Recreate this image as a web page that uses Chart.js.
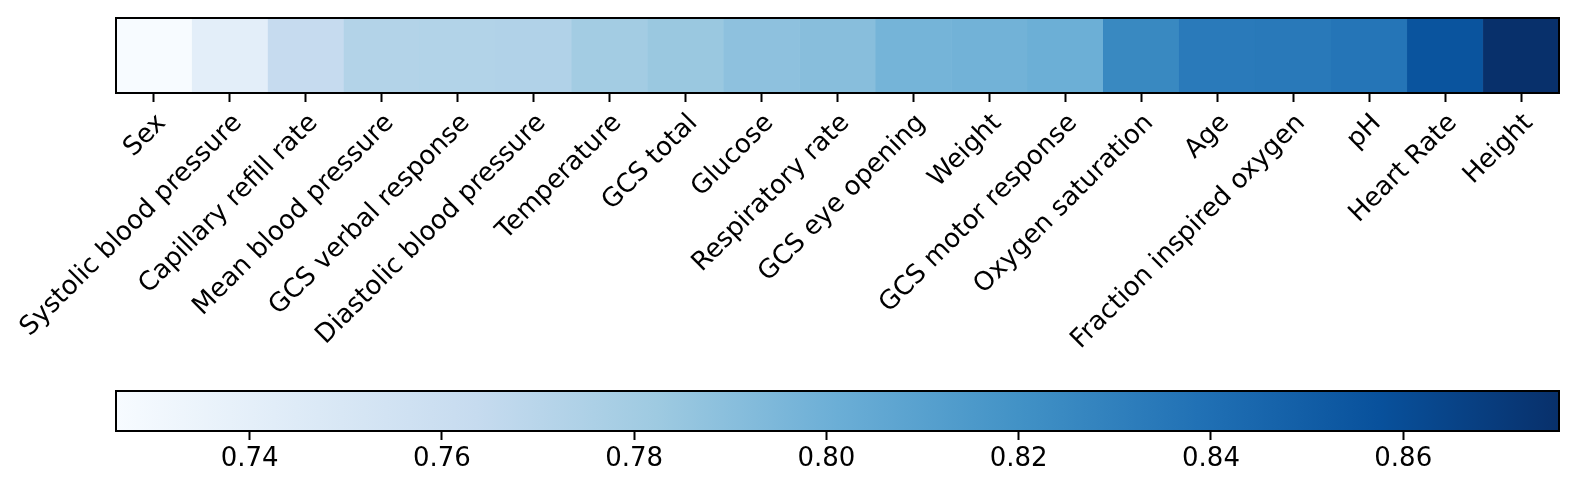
<!DOCTYPE html>
<html><head><meta charset="utf-8">
<script src="https://cdn.jsdelivr.net/npm/chart.js@4"></script>
<style>
html,body{margin:0;padding:0;background:#fff;width:1578px;height:492px;overflow:hidden}
#c1{position:absolute;left:0;top:0}
#c2{position:absolute;left:0;top:370px}
</style></head><body>
<canvas id="c1" width="1578" height="370" style="width:1578px;height:370px"></canvas>
<canvas id="c2" width="1578" height="122" style="width:1578px;height:122px"></canvas>
<script>
// ---- data ----
const categories = ["Sex","Systolic blood pressure","Capillary refill rate","Mean blood pressure",
  "GCS verbal response","Diastolic blood pressure","Temperature","GCS total","Glucose",
  "Respiratory rate","GCS eye opening","Weight","GCS motor response","Oxygen saturation",
  "Age","Fraction inspired oxygen","pH","Heart Rate","Height"];
const importance = [0.7261,0.7411,0.7636,0.7725,0.7728,0.7734,0.7800,0.7837,0.7882,
  0.7906,0.7974,0.7986,0.8007,0.8250,0.8336,0.8342,0.8364,0.8556,0.8762];
const colorbarTicks = [0.74,0.76,0.78,0.80,0.82,0.84,0.86];
// matplotlib "Blues" colormap stops
const BLUES = [[247,251,255],[222,235,247],[198,219,239],[158,202,225],[107,174,214],
  [66,146,198],[33,113,181],[8,81,156],[8,48,107]];

const vmin = Math.min(...importance), vmax = Math.max(...importance);
function blues(t){
  t = Math.max(0, Math.min(1, t));
  const n = BLUES.length - 1;
  const i = Math.min(n - 1, Math.floor(t * n));
  const f = t * n - i, a = BLUES[i], b = BLUES[i + 1];
  return 'rgb(' + a.map((v, k) => Math.round(v + (b[k] - v) * f)).join(',') + ')';
}
const cellColors = importance.map(v => blues((v - vmin) / (vmax - vmin)));

const FONT = {family: "'DejaVu Sans'", size: 26};
const framePlugin = {
  id: 'frame',
  afterDraw(chart){
    const {ctx, chartArea: a} = chart;
    ctx.save();
    ctx.strokeStyle = '#000'; ctx.lineWidth = 2;
    ctx.strokeRect(a.left, a.top, a.right - a.left, a.bottom - a.top);
    ctx.restore();
  }
};

new Chart(document.getElementById('c1'), {
  type: 'bar',
  data: {
    labels: categories,
    datasets: [{
      data: importance.map(() => 1),
      backgroundColor: cellColors,
      borderColor: cellColors,
      borderWidth: 0.5,
      barPercentage: 1,
      categoryPercentage: 1
    }]
  },
  options: {
    responsive: false, animation: false, devicePixelRatio: 1,
    layout: {padding: {top: 18, left: 116, right: 19, bottom: 0}},
    plugins: {legend: {display: false}, tooltip: {enabled: false}},
    scales: {
      x: {
        grid: {display: true, drawOnChartArea: false, drawTicks: true, offset: false,
               tickLength: 9, tickWidth: 2, tickColor: '#000'},
        border: {display: false},
        ticks: {autoSkip: false, minRotation: 45, maxRotation: 45, color: '#000',
                font: FONT, padding: 6, labelOffset: 8},
        afterFit(scale){ scale.height = 277; }
      },
      y: {display: false, min: 0, max: 1}
    }
  },
  plugins: [framePlugin]
});

new Chart(document.getElementById('c2'), {
  type: 'bar',
  data: {
    labels: [''],
    datasets: [{
      data: [[vmin, vmax]],
      backgroundColor(ctx){
        const chart = ctx.chart;
        if (!chart.chartArea) return null;
        const xs = chart.scales.x;
        const g = chart.ctx.createLinearGradient(xs.getPixelForValue(vmin), 0, xs.getPixelForValue(vmax), 0);
        BLUES.forEach((c, i) => g.addColorStop(i / (BLUES.length - 1), 'rgb(' + c.join(',') + ')'));
        return g;
      },
      borderWidth: 0,
      barPercentage: 1,
      categoryPercentage: 1
    }]
  },
  options: {
    indexAxis: 'y',
    responsive: false, animation: false, devicePixelRatio: 1,
    layout: {padding: {top: 21, left: 116, right: 19, bottom: 0}},
    plugins: {legend: {display: false}, tooltip: {enabled: false}},
    scales: {
      x: {
        type: 'linear', min: vmin, max: vmax,
        afterBuildTicks(scale){ scale.ticks = colorbarTicks.map(v => ({value: v})); },
        grid: {display: true, drawOnChartArea: false, drawTicks: true,
               tickLength: 9, tickWidth: 2, tickColor: '#000'},
        border: {display: false},
        ticks: {color: '#000', font: FONT, padding: 4, callback: v => Number(v).toFixed(2)},
        afterFit(scale){ scale.height = 61; }
      },
      y: {display: false}
    }
  },
  plugins: [framePlugin]
});
</script>
</body></html>
